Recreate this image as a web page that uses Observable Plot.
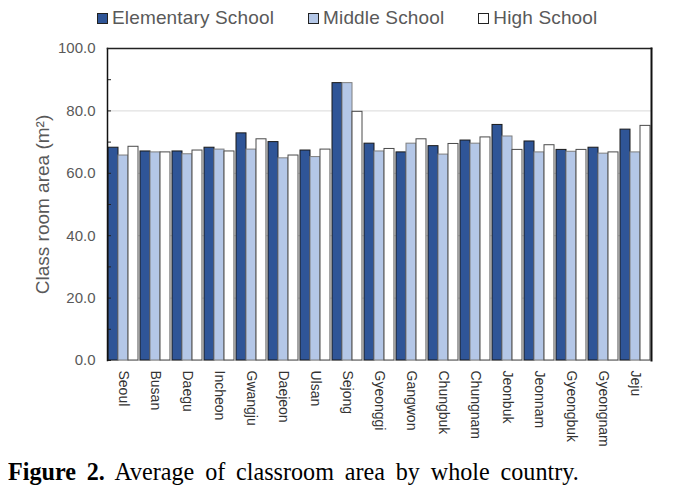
<!DOCTYPE html>
<html><head><meta charset="utf-8">
<script src="https://cdn.jsdelivr.net/npm/d3@7"></script>
<script src="https://cdn.jsdelivr.net/npm/@observablehq/plot@0.6"></script>
<style>
body{margin:0;background:#fff;}
#wrap{position:relative;width:676px;height:495px;overflow:hidden;}
#legend{position:absolute;left:97px;top:7px;font:19px "Liberation Sans",Arial,sans-serif;letter-spacing:0.15px;color:#595959;display:flex;gap:0;white-space:nowrap;}
#legend .item{display:flex;align-items:center;margin-right:34px;}
#legend .sw{width:9px;height:9px;border:1px solid #222;margin-right:4px;}
#chart{position:absolute;left:0;top:0;}
#caption{position:absolute;left:8px;top:458px;font:25px "Liberation Serif","Times New Roman",serif;color:#000;white-space:nowrap;word-spacing:5px;transform:scaleX(0.965);transform-origin:left top;}
</style>
</head><body>
<div id="wrap">
  <div id="chart"></div>
  <div id="legend"></div>
  <div id="caption"><b>Figure 2.</b> Average of classroom area by whole country.</div>
</div>
<script>
const regions = ["Seoul","Busan","Daegu","Incheon","Gwangju","Daejeon","Ulsan","Sejong","Gyeonggi","Gangwon","Chungbuk","Chungnam","Jeonbuk","Jeonnam","Gyeongbuk","Gyeongnam","Jeju"];
const seriesNames = ["Elementary School","Middle School","High School"];
const elementary = [68.2,67.0,67.0,68.2,72.8,70.0,67.3,88.9,69.5,66.7,68.7,70.5,75.5,70.2,67.5,68.2,74.0];
const middle     = [65.7,66.7,66.1,67.6,67.6,64.8,65.2,88.9,67.0,69.5,66.0,69.5,71.8,66.7,66.9,66.3,66.7];
const high       = [68.5,66.7,67.3,67.0,70.9,65.7,67.6,79.7,67.8,70.9,69.4,71.5,67.5,69.0,67.5,66.7,75.2];
const yTicks = [0,20,40,60,80,100];
const yMinorTicks = [0,10,20,30,40,50,60,70,80,90,100];
const fills = ["#2F5597","#B4C7E7","#FFFFFF"];
const strokes = ["#1a1a1a","#7f7f7f","#4a4a4a"];

const seriesValues = [elementary, middle, high];
const data = [];
regions.forEach((r, i) => seriesNames.forEach((s, j) => data.push({region: r, series: s, value: seriesValues[j][i]})));

// legend
const legend = document.getElementById("legend");
seriesNames.forEach((s, j) => {
  const it = document.createElement("div"); it.className = "item";
  const sw = document.createElement("div"); sw.className = "sw"; sw.style.background = fills[j];
  const tx = document.createElement("span"); tx.textContent = s;
  it.appendChild(sw); it.appendChild(tx); legend.appendChild(it);
});

const chart = Plot.plot({
  width: 676,
  height: 458,
  marginTop: 48,
  marginBottom: 98,
  marginLeft: 101,
  marginRight: 20,
  style: {fontFamily: "'Liberation Sans', Arial, sans-serif", background: "transparent"},
  fx: {domain: regions, padding: 0, label: null},
  x: {domain: seriesNames, paddingInner: 0, paddingOuter: 0.08, axis: null},
  y: {domain: [0, 100], label: null},
  color: {domain: seriesNames, range: fills},
  marks: [
    Plot.gridY([20,40,60,80], {stroke: "#d9d9d9", strokeOpacity: 1}),
    Plot.ruleY([0], {stroke: "#d9d9d9"}),
    Plot.barY(data, {fx: "region", x: "series", y: "value", fill: "series",
      stroke: d => strokes[seriesNames.indexOf(d.series)], strokeWidth: 1}),
    Plot.axisY({ticks: yMinorTicks, tickSize: -4, tickFormat: () => "", stroke: "#222", label: null}),
    Plot.axisY({ticks: yTicks, tickSize: 0, tickPadding: 4, dx: -8, tickFormat: d => d.toFixed(1), fontSize: 15, fill: "#595959", label: null}),
    Plot.axisFx({anchor: "bottom", tickRotate: 90, tickSize: 0, tickPadding: 10, fontSize: 14, fill: "#333", label: null}),
    Plot.frame({facet: "super", anchor: "left", stroke: "#111", strokeWidth: 1.5}),
    Plot.frame({facet: "super", anchor: "top", stroke: "#222", strokeWidth: 1.5}),
    Plot.frame({facet: "super", anchor: "right", stroke: "#111", strokeWidth: 2}),
    Plot.text(["Class room area (m²)"], {facet: "super", frameAnchor: "left", rotate: -90, dx: -65, fontSize: 19, fill: "#595959", textAnchor: "middle"})
  ]
});
document.getElementById("chart").appendChild(chart);
</script>
</body></html>
